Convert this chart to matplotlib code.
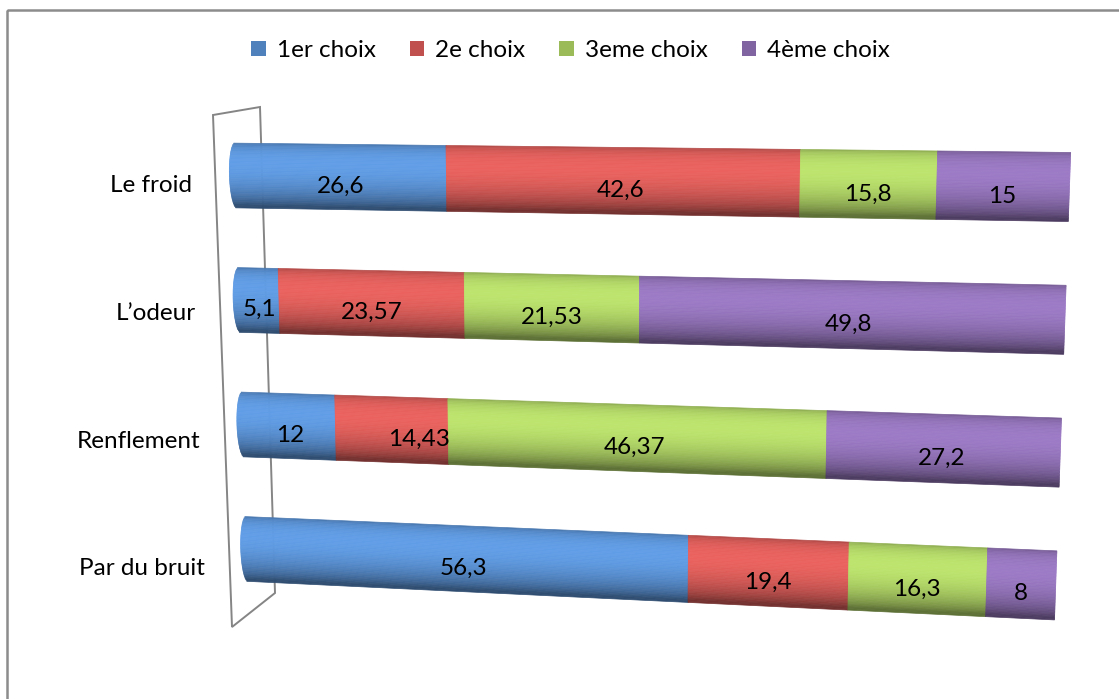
"""Stacked 3D-cylinder style bar chart: rank of choices per detection cue."""

import numpy as np
import matplotlib
matplotlib.use("Agg")
import matplotlib.pyplot as plt
import matplotlib.transforms as mtransforms
from matplotlib.patches import Patch, Polygon, Rectangle
from matplotlib.colors import to_rgb

plt.rcParams["font.family"] = ["Lato", "DejaVu Sans"]

categories = ["Le froid", "L\u2019odeur", "Renflement", "Par du bruit"]
series = ["1er choix", "2e choix", "3eme choix", "4ème choix"]
choix_1 = [26.6, 5.1, 12, 56.3]
choix_2 = [42.6, 23.57, 14.43, 19.4]
choix_3 = [15.8, 21.53, 46.37, 16.3]
choix_4 = [15, 49.8, 27.2, 8]
colors = ["#4F81BD", "#C0504D", "#9BBB59", "#8064A2"]

# perspective of the Excel 3D view, in figure pixels (row index r, value 0..100)
LEFT_X, RIGHT_X = (236.0, 3.7), (1069.5, -4.6)
LEFT_Y, RIGHT_Y = (175.5, 124.5), (187.0, 132.8)
DEPTH = -0.068          # right side of the plot is nearer to the viewer
HALF = 0.26             # half thickness of a cylinder, in row units
CAP = 0.85              # bulge of the rounded left end, in value units
N_STRIPS = 48
FS = 17.5


class ChartProjection(mtransforms.Transform):
    input_dims = output_dims = 2
    is_separable = False
    has_inverse = False

    def transform_non_affine(self, values):
        v = np.asarray(values, dtype=float).reshape(-1, 2)
        x, r = v[:, 0], v[:, 1]
        u = x / 100.0
        u = u * (1 + DEPTH) / (1 + DEPTH * u)
        xl = LEFT_X[0] + LEFT_X[1] * r; xr = RIGHT_X[0] + RIGHT_X[1] * r
        yl = LEFT_Y[0] + LEFT_Y[1] * r; yr = RIGHT_Y[0] + RIGHT_Y[1] * r
        return np.column_stack([xl + (xr - xl) * u, yl + (yr - yl) * u])


def shade(rgb, v):
    diffuse = np.clip(np.cos(np.arcsin(v) - np.radians(22)), 0, None)
    return np.clip(np.asarray(rgb) * (0.6 + 0.62 * diffuse), 0, 1)


fig = plt.figure(figsize=(11.19, 6.99), dpi=100)
ax = fig.add_axes([0, 0, 1, 1])
ax.set_xlim(0, 1119); ax.set_ylim(699, 0); ax.axis("off")
proj = ChartProjection() + ax.transData

# chart frame and the slanted back wall of the category axis
ax.add_patch(Rectangle((7, 10), 1200, 800, fill=False, ec="#8c8c8c", lw=1.8, zorder=0))
ax.add_patch(Polygon([(213, 115), (260, 107), (275, 593), (232, 627)], closed=True,
                     fill=False, ec="#858585", lw=1.4, zorder=1))

values = np.array([choix_1, choix_2, choix_3, choix_4])   # series x rows
starts = np.vstack([np.zeros(len(categories)), np.cumsum(values, axis=0)[:-1]])

v = np.linspace(1, -1, N_STRIPS + 1)
v = 0.5 * (v[:-1] + v[1:])          # strip centres, +1 = top of the cylinder
for s, col in enumerate(colors):
    strip_cols = [shade(to_rgb(col), vv) for vv in v]
    for r in range(len(categories)):
        left = np.full(N_STRIPS, starts[s, r])
        if s == 0:
            left = left - CAP * np.sqrt(1 - v ** 2)
        width = starts[s, r] + values[s, r] - left
        ax.barh(r - v * HALF, width, left=left, height=2 * HALF / N_STRIPS,
                color=strip_cols, edgecolor=strip_cols, linewidth=0.5,
                transform=proj, zorder=2)

# data labels (Excel pushes "14,43" a little to the right)
nudge = {(1, 2): 3.5}
for s in range(len(series)):
    for r in range(len(categories)):
        xc = starts[s, r] + values[s, r] / 2 + nudge.get((s, r), 0)
        txt = f"{values[s, r]:g}".replace(".", ",")
        ax.text(xc, r + 0.125, txt, transform=proj, ha="center", va="baseline",
                fontsize=FS, color="black", zorder=3)

for r, cat in enumerate(categories):
    ax.text(192 + 4.3 * r, 192.5 + 127.6 * r, cat, ha="right", va="baseline",
            fontsize=FS, color="black")

handles = [Patch(facecolor=c, edgecolor="none") for c in colors]
fig.legend(handles, series, loc="center", bbox_to_anchor=(0.510, 0.928), ncol=4,
           frameon=False, fontsize=FS, handlelength=0.6, handleheight=0.6,
           handletextpad=0.45, columnspacing=1.4)

fig.savefig("out.png", dpi=100)
